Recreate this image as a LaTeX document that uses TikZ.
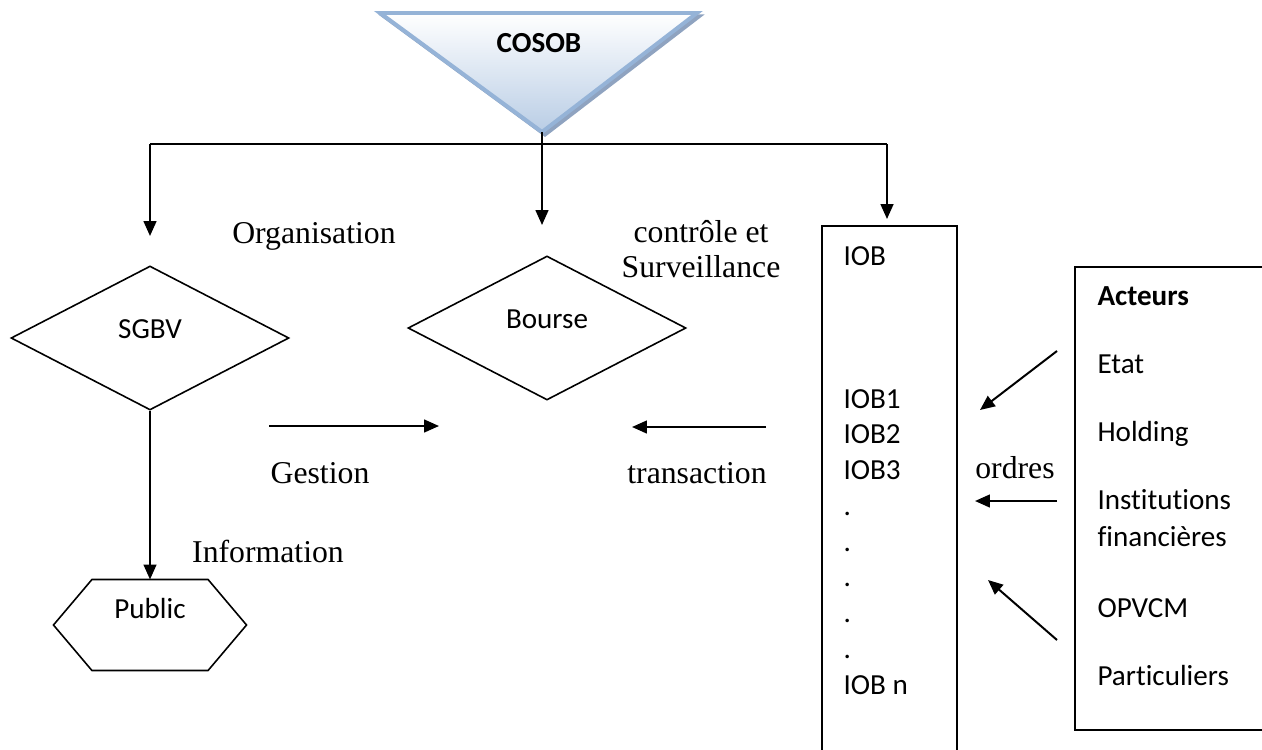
\documentclass[tikz,border=0pt]{standalone}
\usepackage{fontspec}
\setmainfont{Liberation Serif}
\newfontfamily\calibri[Ligatures=NoCommon]{Carlito}
\usetikzlibrary{arrows.meta, shapes.geometric}
\definecolor{cosobEdge}{RGB}{149,179,215}
\definecolor{cosobFill}{RGB}{185,205,229}
\definecolor{cosobShadow}{RGB}{143,163,192}
\newlength\pxu
\setlength\pxu{0.378pt}

\tikzset{
  flow/.style={line width=0.75pt, -{Triangle[length=5.6pt, width=4.8pt]}},
  bus/.style={line width=0.75pt},
  decision/.style={diamond, draw, line width=0.6pt, inner sep=0pt,
                   minimum width=278\pxu, minimum height=144\pxu,
                   font=\calibri\fontsize{11}{13}\selectfont,
                   text height=7pt, text depth=7pt},
  frame/.style={draw, line width=0.75pt, inner sep=0pt, anchor=north west},
  item/.style={font=\calibri\fontsize{11}{13}\selectfont, inner sep=0pt, anchor=base west},
  remark/.style={font=\fontsize{12}{13.2}\selectfont, inner sep=0pt, anchor=base},
}

\begin{document}
\begin{tikzpicture}[x=0.378pt, y=-0.378pt]
    \clip (0,0) rectangle (1262,749);

    % COSOB en tete
    \coordinate (cosob-tip) at (542,132);
    \filldraw[cosobShadow, line width=1.2pt] (383,16) -- (700,16) -- (545,135) -- cycle;
    \shade[top color=white, bottom color=cosobFill, draw=cosobEdge, line width=1.5pt]
        (380,13) -- (697,13) -- (cosob-tip) -- cycle;
    \node[font=\calibri\bfseries\fontsize{11}{13}\selectfont] (cosob) at (539,43) {COSOB};

    % formes
    \node[decision] (sgbv) at (150,338) {SGBV};
    \node[decision] (bourse) at (547,328) {Bourse};
    \node[inner sep=0pt, minimum width=115\pxu, minimum height=90\pxu,
          font=\calibri\fontsize{11}{13}\selectfont,
          text height=7pt, text depth=12pt] (public) at (150,625) {Public};
    \draw[line width=0.6pt] (public.north west) -- (public.north east)
        -- ([xshift=38.5\pxu]public.east) -- (public.south east)
        -- (public.south west) -- ([xshift=-38.5\pxu]public.west) -- cycle;
    \node[frame, minimum width=135\pxu, minimum height=540\pxu] (iob) at (821,225) {};
    \node[frame, minimum width=200\pxu, minimum height=463\pxu] (acteurs) at (1074,266) {};

    % liste des IOB
    \node[item] (iob-0) at (843,265) {IOB};
    \foreach \name [count=\i] in {IOB1,IOB2,IOB3,.,.,.,.,.,IOB n}
        \node[item] (iob-\i) at (843,{408+35.75*(\i-1)}) {\name};

    % liste des acteurs
    \node[item, font=\calibri\bfseries\fontsize{11}{13}\selectfont] (act-0) at (1097,305) {Acteurs};
    \foreach \name/\y [count=\i] in {Etat/373,Holding/441,Institutions/509,financières/546,OPVCM/617,Particuliers/685}
        \node[item] (act-\i) at (1097,\y) {\name};

    % libelles
    \node[remark] (organisation) at (314,243) {Organisation};
    \node[remark, align=center] (controle) at (701,277) {contrôle et\\Surveillance};
    \node[remark] (gestion) at (320,483) {Gestion};
    \node[remark] (transaction) at (697,483) {transaction};
    \node[remark] (ordres) at (1015,478) {ordres};
    \node[remark] (information) at (268,562) {Information};

    % fleches
    \coordinate (bus-left) at (150,144);
    \coordinate (bus-right) at (887,144);
    \coordinate (gestion-a) at (269,426);
    \coordinate (gestion-b) at (439,426);
    \coordinate (transaction-a) at (766,427);
    \coordinate (transaction-b) at (632,427);
    \coordinate (etat-a) at (1057,351);
    \coordinate (etat-b) at (980,410);
    \coordinate (ordres-a) at (1057,501);
    \coordinate (ordres-b) at (975,501);
    \coordinate (opvcm-a) at (1057,640);
    \coordinate (opvcm-b) at (988,580);

    \draw[bus] (bus-left) -- (bus-right);
    \draw[flow] (cosob-tip) -- ++(0,93);
    \draw[flow] (bus-left) -- ++(0,92);
    \draw[flow] (bus-right) -- ++(0,75);
    \draw[flow] (sgbv.south) -- (public.north);
    \draw[flow] (gestion-a) -- (gestion-b);
    \draw[flow] (transaction-a) -- (transaction-b);
    \draw[flow] (etat-a) -- (etat-b);
    \draw[flow] (ordres-a) -- (ordres-b);
    \draw[flow] (opvcm-a) -- (opvcm-b);
\end{tikzpicture}
\end{document}
